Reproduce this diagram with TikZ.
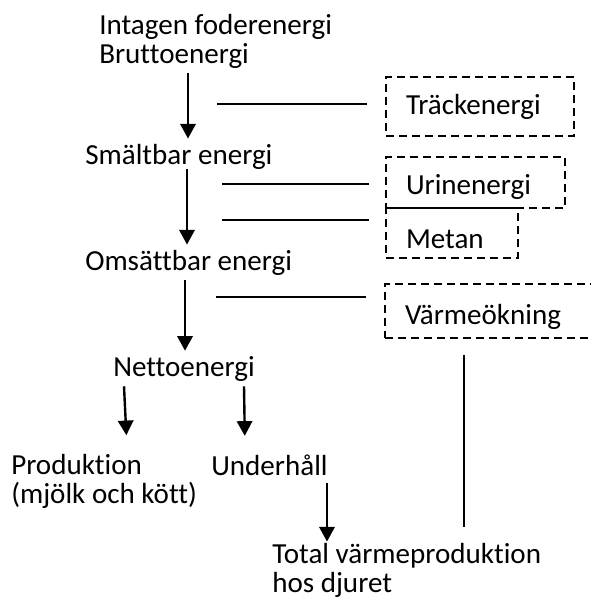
\documentclass[tikz,border=0pt]{standalone}
\usepackage{fontspec}
\setmainfont[Ligatures=NoCommon]{Carlito}
\usetikzlibrary{arrows.meta}
\newcommand{\lbfont}{\fontsize{21.8pt}{21.75pt}\selectfont}
\tikzset{
  tag/.style={anchor=base west, inner xsep=0pt, inner ysep=3.75pt, align=left, font=\lbfont},
  lossbox/.style={draw, line width=1.5pt, dash pattern=on 6pt off 3.75pt, anchor=north west,
    inner xsep=15pt, inner ysep=0pt, align=left, font=\lbfont},
  arr/.style={line width=1.8pt, -{Triangle[width=11.5pt,length=11pt]}},
  lead/.style={line width=1.6pt}
}
\begin{document}
\begin{tikzpicture}[x=0.75pt,y=-0.75pt]
\useasboundingbox (0,0) rectangle (591,603);

% Energy stages (base = last line)
\node[tag] (intake) at (99,63) {Intagen foderenergi\\Bruttoenergi};
\node[tag] (smalt) at (85,164) {Smältbar energi};
\node[tag] (omsatt) at (85,270) {Omsättbar energi};
\node[tag] (netto) at (113,376) {Nettoenergi};
\node[tag] (prod) at (11,503) {Produktion\\(mjölk och kött)};
\node[tag, text depth=.2em] (under) at (211,475) {Underhåll};
\node[tag] (total) at (272,592) {Total värmeproduktion\\hos djuret};

% Losses
\node[lossbox, text width=111pt, text height=27.75pt, text depth=16.5pt] (trk) at (385,76) {Träckenergi};
\node[lossbox, text width=104.25pt, text height=27.75pt, text depth=10.5pt] (urin) at (385,156) {Urinenergi};
\node[lossbox, text width=69pt, text height=30pt, text depth=7.5pt] (metan) at (385,207) {Metan};
\node[lossbox, text width=132pt, text height=30pt, text depth=10.5pt] (vrm) at (384,283) {Värmeökning};

% Flow arrows
\draw[arr] (intake.south -| 188,0) -- (smalt.north -| 188,0);
\draw[arr, shorten <=-4pt] (smalt.south -| 187,0) -- (omsatt.north -| 187,0);
\draw[arr] (omsatt.south -| 185,0) -- (netto.north -| 185,0);
\draw[arr, shorten >=10pt] (netto.south -| 124,0) -- (prod.north -| 127,0);
\draw[arr, shorten >=10pt] (netto.south -| 244,0) -- (under.north -| 245,0);
\draw[arr, shorten >=-3pt] (under.south -| 327,0) -- (total.north -| 327,0);

% Lines towards the losses
\draw[lead] ([shift={(-18,-2.5)}]trk.west) -- ++(-150,0);
\draw[lead] ([shift={(-16,1.5)}]urin.west) -- ++(-147,0);
\draw[lead] ([shift={(-16,-13)}]metan.west) -- ++(-147,0);
\draw[lead] ([shift={(-18,-14)}]vrm.west) -- ++(-150,0);
\draw[lead] ([shift={(80,16)}]vrm.south west) -- ++(0,172);

\end{tikzpicture}
\end{document}
